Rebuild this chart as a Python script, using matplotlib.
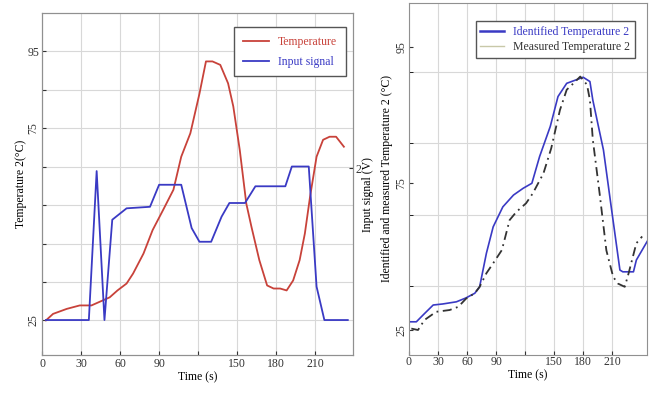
import matplotlib
matplotlib.use("Agg")
import matplotlib.pyplot as plt
from matplotlib.lines import Line2D

plt.rcParams['font.family'] = ['Liberation Serif', 'DejaVu Serif']

# ---------------- data ----------------
# Left panel: temperature (degC) and input signal (V)
time_temp = [3, 8.5, 19, 29, 38, 44, 52, 58, 65, 70, 78, 85, 93, 101, 107, 114, 121,
             126, 131, 137, 143, 147, 152, 157, 161, 167, 173, 178, 183, 188, 193,
             198, 202, 206, 211, 216, 221, 226, 232]
temperature = [25, 26.7, 28, 28.9, 28.9, 29.8, 31, 32.8, 34.6, 37.2, 42.4, 48.5, 53.7,
               59, 67.6, 73.7, 84, 92.4, 92.4, 91.5, 86.7, 80.7, 69.3, 55.4, 49.3, 40.7,
               34.1, 33.3, 33.3, 32.8, 35.4, 40.7, 47.6, 57.2, 67.6, 72, 72.8, 72.8, 70.2]

time_input = [3, 36, 42, 48, 54, 65, 83, 90, 107, 115, 121, 130, 138, 144, 156, 164,
              187, 192, 205, 211, 217, 235]
input_signal = [0, 0, 1.96, 0, 1.32, 1.47, 1.49, 1.78, 1.78, 1.21, 1.03, 1.03, 1.36,
                1.54, 1.54, 1.76, 1.76, 2.02, 2.02, 0.44, 0, 0]

# Right panel: identified and measured temperature 2 (degC)
time_ident = [0, 7.6, 16, 25, 35, 49, 59, 68, 73, 80, 87, 97, 108, 118, 127, 135, 146,
              154, 163, 173, 180, 187, 190, 201, 209, 218, 221, 232, 235, 247]
identified = [25, 25, 27.3, 29.7, 30, 30.6, 31.7, 33, 34.8, 44.2, 51.6, 57.2, 60.5,
              62.4, 63.8, 71.3, 79.7, 88.1, 91.8, 92.8, 93.5, 92.3, 87.1, 73.1, 57.2,
              39.5, 39, 39, 42.3, 47.9]

time_meas = [2.4, 9.3, 16, 28, 42, 51, 59, 68, 73, 80, 87, 96, 104, 111, 121, 128, 139,
             147, 156, 163, 170, 177, 184, 187, 190, 197, 204, 211, 216, 223, 227, 235, 241]
measured = [23.1, 22.7, 25.5, 27.8, 28.3, 29.2, 31.5, 33, 34.8, 38.6, 41.4, 45.1, 53.5,
            55.8, 58.2, 61, 66.6, 73.6, 84.3, 90, 91.8, 93.7, 91.4, 87.1, 76, 61, 45,
            37.6, 35.7, 34.8, 38.6, 47, 48.9]

x_ticks = [0, 30, 60, 90, 120, 150, 180, 210]
x_tick_labels = ['0', '30', '60', '90', '', '150', '180', '210']

left_y_grid = [25, 35, 45, 55, 65, 75, 85, 95]
left_y_labels = ['25', '', '', '', '', '75', '', '95']

right_y_grid = [35, 55, 75, 95]
right_y_label_pos = [22.7, 63.8, 102]
right_y_labels = ['25', '75', '95']

# ---------------- style ----------------
RED = '#c8423a'
BLUE = '#3a3ac4'
GRID = '#d8d8d8'
SPINE = '#909090'
FS = 8.5

fig = plt.figure(figsize=(6.49, 3.94), dpi=100)

# ---------- left panel ----------
ax1 = fig.add_axes([42/649, 39/394, 311/649, 342/394])
ax1.plot(time_temp, temperature, color=RED, lw=1.3, label='Temperature')
ax1.set_xlim(0, 239)
ax1.set_ylim(16, 105)
ax1.set_xticks(x_ticks)
ax1.set_xticklabels(x_tick_labels, fontsize=FS)
ax1.set_yticks(left_y_grid)
ax1.set_yticklabels(left_y_labels, fontsize=FS)
for lbl in ax1.get_yticklabels():
    if lbl.get_text() in ('25', '75'):
        lbl.set_rotation(90)
        lbl.set_va('center')
ax1.grid(True, color=GRID, lw=0.8)
ax1.tick_params(direction='in', length=3, colors='#333333', pad=2)
ax1.set_xlabel('Time (s)', fontsize=FS, labelpad=1)
ax1.set_ylabel('Temperature 2(°C)', fontsize=FS)
ax1.yaxis.set_label_coords(-0.048, 0.5)
for s in ax1.spines.values():
    s.set_color(SPINE)

ax1b = ax1.twinx()
ax1b.plot(time_input, input_signal, color=BLUE, lw=1.3, label='Input signal')
ax1b.set_ylim(-0.46, 4.04)
ax1b.set_yticks([2])
ax1b.set_yticklabels(['2'], fontsize=FS)
ax1b.tick_params(direction='in', length=3, colors='#333333', pad=2)
ax1b.set_ylabel('Input signal (V)', fontsize=FS)
ax1b.yaxis.set_label_coords(1.029, 0.47)
for s in ax1b.spines.values():
    s.set_color(SPINE)

h1, l1 = ax1.get_legend_handles_labels()
h2, l2 = ax1b.get_legend_handles_labels()
leg1 = ax1b.legend(h1 + h2, l1 + l2, loc='upper right', fontsize=FS, fancybox=False,
                   edgecolor='#555555', framealpha=1, handlelength=2.2,
                   borderpad=0.7, labelspacing=0.7, bbox_to_anchor=(0.995, 0.975))
for txt, c in zip(leg1.get_texts(), [RED, BLUE]):
    txt.set_color(c)

# ---------- right panel ----------
ax2 = fig.add_axes([409/649, 39/394, 238/649, 352/394])
ax2.plot(time_ident, identified, color=BLUE, lw=1.2)
ax2.plot(time_meas, measured, color='#333333', lw=1.3, ls=(0, (5, 2.5, 1, 2.5)))
ax2.set_xlim(0, 246)
ax2.set_ylim(15.7, 114.3)
ax2.set_xticks(x_ticks)
ax2.set_xticklabels(x_tick_labels, fontsize=FS)
ax2.set_yticks(right_y_label_pos)
ax2.set_yticklabels(right_y_labels, fontsize=FS, rotation=90, va='center')
ax2.set_yticks(right_y_grid, minor=True)
ax2.grid(False)
ax2.grid(True, axis='x', color=GRID, lw=0.8)
ax2.grid(True, axis='y', which='minor', color=GRID, lw=0.8)
ax2.tick_params(direction='in', length=3, colors='#333333', pad=1)
ax2.tick_params(which='minor', direction='in', length=3)
ax2.set_xlabel('Time (s)', fontsize=FS, labelpad=1)
ax2.set_ylabel('Identified and measured Temperature 2 (°C)', fontsize=FS)
ax2.yaxis.set_label_coords(-0.068, 0.5)
for s in ax2.spines.values():
    s.set_color(SPINE)

handles2 = [Line2D([], [], color=BLUE, lw=1.8),
            Line2D([], [], color='#c8c8a8', lw=1.0)]
leg2 = ax2.legend(handles2, ['Identified Temperature 2', 'Measured Temperature 2'],
                  loc='upper right', fontsize=FS, fancybox=False, edgecolor='#555555',
                  framealpha=1, handlelength=2.0, borderpad=0.4, labelspacing=0.3,
                  bbox_to_anchor=(0.975, 0.965))
leg2.get_texts()[0].set_color(BLUE)
leg2.get_texts()[1].set_color('#333333')

fig.savefig('out.png', dpi=100)
